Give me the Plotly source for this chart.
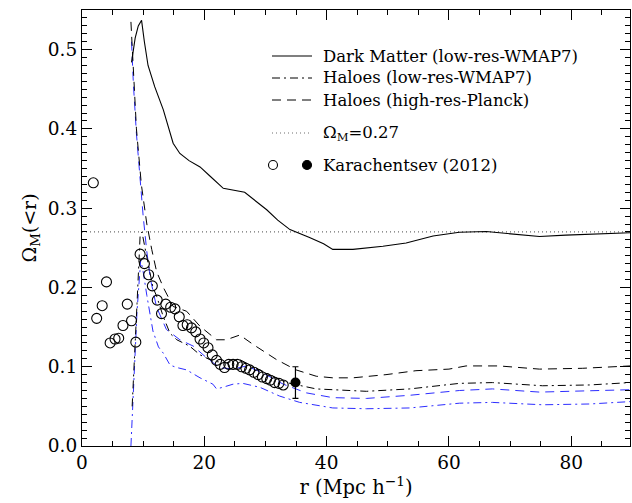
import plotly.graph_objects as go

# ---------------- data ----------------
dm_r = [8.1, 8.7, 9.2, 9.74, 10.2, 10.8, 11.9, 13.3, 14.9, 16.0, 17.5, 19.3, 21.0, 23.1, 26.6, 28.5,
        30.2, 32.0, 34.0, 37.2, 39.5, 41.0, 44.3, 49.2, 53.0, 57.4, 61.7, 66.1, 71.0, 74.8, 79.1, 84.6, 89.6]
dm_om = [0.484, 0.515, 0.530, 0.537, 0.510, 0.480, 0.453, 0.424, 0.382, 0.369, 0.360, 0.352, 0.340, 0.325,
         0.320, 0.308, 0.298, 0.285, 0.273, 0.263, 0.255, 0.248, 0.248, 0.252, 0.256, 0.265, 0.2697, 0.2705,
         0.2667, 0.2642, 0.266, 0.2677, 0.269]

hlw_r = [8.2, 8.6, 9.0, 9.5, 9.8, 10.3, 11.6, 12.2, 13.3, 14.4, 15.5, 17.6, 19.3, 21.4, 23.6, 25.8, 28.0,
         31.2, 34.0, 38.3, 41.6, 46.5, 53.6, 61.7, 67.1, 75.3, 83.0, 89.6]
hlw_om = [0.05, 0.11, 0.18, 0.265, 0.27, 0.25, 0.20, 0.189, 0.163, 0.142, 0.134, 0.126, 0.115, 0.107, 0.105,
          0.109, 0.100, 0.088, 0.079, 0.072, 0.071, 0.069, 0.072, 0.079, 0.080, 0.076, 0.077, 0.080]

hhp_r = [8.0, 8.9, 9.7, 10.6, 11.4, 12.2, 13.3, 14.9, 17.1, 19.3, 22.0, 23.6, 25.8, 28.0, 31.8, 35.0, 38.3,
         41.0, 44.3, 49.7, 54.6, 60.0, 62.8, 68.2, 74.8, 81.8, 89.6]
hhp_om = [0.535, 0.40, 0.33, 0.28, 0.248, 0.22, 0.200, 0.176, 0.170, 0.151, 0.134, 0.134, 0.140, 0.128, 0.109,
          0.096, 0.088, 0.086, 0.086, 0.090, 0.095, 0.097, 0.101, 0.101, 0.097, 0.098, 0.101]

blue_dash_r = [8.1, 8.4, 8.9, 9.5, 10.0, 10.6, 11.2, 12.2, 13.8, 16.0, 18.2, 20.4, 22.5, 24.7, 26.9, 29.6,
               32.9, 36.7, 41.0, 46.5, 53.6, 61.7, 67.1, 74.8, 81.8, 89.6]
blue_dash_om = [0.51, 0.457, 0.394, 0.331, 0.29, 0.245, 0.21, 0.175, 0.147, 0.134, 0.126, 0.111, 0.099, 0.097,
                0.101, 0.092, 0.078, 0.067, 0.061, 0.060, 0.064, 0.070, 0.072, 0.068, 0.069, 0.071]

blue_dd_r = [8.0, 8.5, 9.0, 9.6, 10.0, 10.6, 11.6, 12.5, 13.3, 14.4, 15.5, 17.1, 19.3, 21.4, 22.0, 23.0, 24.7,
             26.3, 29.1, 32.3, 35.6, 41.0, 46.5, 53.6, 61.7, 67.1, 75.3, 83.0, 89.6]
blue_dd_om = [0.0, 0.09, 0.17, 0.235, 0.22, 0.19, 0.145, 0.125, 0.117, 0.102, 0.099, 0.096, 0.086, 0.078, 0.072,
              0.074, 0.078, 0.079, 0.074, 0.063, 0.055, 0.048, 0.047, 0.048, 0.054, 0.055, 0.052, 0.053, 0.056]

omega_ref = 0.27
x_range = [0, 89.6]

kar_r = [1.85, 2.4, 3.3, 4.0, 4.6, 5.4, 6.0, 6.7, 7.4, 8.1, 8.8, 9.5, 10.2, 10.9, 11.5, 12.3, 13.0, 13.7, 14.5,
         15.2, 15.9, 16.5, 17.2, 17.9, 18.6, 19.3, 19.9, 20.6, 21.3, 22.0, 22.6, 23.3, 24.0, 24.7, 25.4, 26.1,
         26.8, 27.4, 28.1, 28.8, 29.5, 30.2, 30.8, 31.5, 32.2, 32.9]
kar_om = [0.332, 0.161, 0.177, 0.207, 0.130, 0.135, 0.136, 0.152, 0.179, 0.158, 0.131, 0.242, 0.230, 0.216,
          0.202, 0.184, 0.167, 0.179, 0.175, 0.173, 0.163, 0.152, 0.153, 0.149, 0.144, 0.135, 0.130, 0.124,
          0.115, 0.108, 0.103, 0.099, 0.103, 0.103, 0.103, 0.100, 0.098, 0.096, 0.093, 0.090, 0.087, 0.085,
          0.083, 0.080, 0.079, 0.077]

kar_big_r = [34.9]
kar_big_om = [0.080]
kar_big_err = [0.020]

legend_labels = ["Dark Matter (low-res-WMAP7)", "Haloes (low-res-WMAP7)", "Haloes (high-res-Planck)",
                 "Ω<sub>M</sub>=0.27", "Karachentsev (2012)"]

# ---------------- styles ----------------
BLUE = "rgb(45,45,255)"
DASH = "9px,6px"
DASHDOT = "8px,4px,2px,4px"
DOT = "1px,3px"
FONT = "DejaVu Serif"

fig = go.Figure()

fig.add_trace(go.Scatter(x=x_range, y=[omega_ref, omega_ref], mode="lines",
                         line=dict(color="rgb(110,110,110)", width=1.2, dash=DOT), showlegend=False))
fig.add_trace(go.Scatter(x=blue_dd_r, y=blue_dd_om, mode="lines",
                         line=dict(color=BLUE, width=1, dash=DASHDOT), showlegend=False))
fig.add_trace(go.Scatter(x=blue_dash_r, y=blue_dash_om, mode="lines",
                         line=dict(color=BLUE, width=1, dash=DASH), showlegend=False))
fig.add_trace(go.Scatter(x=hlw_r, y=hlw_om, mode="lines",
                         line=dict(color="black", width=1, dash=DASHDOT), showlegend=False))
fig.add_trace(go.Scatter(x=hhp_r, y=hhp_om, mode="lines",
                         line=dict(color="black", width=1, dash=DASH), showlegend=False))
fig.add_trace(go.Scatter(x=dm_r, y=dm_om, mode="lines",
                         line=dict(color="black", width=1.1), showlegend=False))
fig.add_trace(go.Scatter(x=kar_r, y=kar_om, mode="markers",
                         marker=dict(symbol="circle-open", size=10, color="black", line=dict(width=1.1)),
                         showlegend=False))
fig.add_trace(go.Scatter(x=kar_big_r, y=kar_big_om, mode="markers",
                         marker=dict(symbol="circle", size=10, color="black"),
                         error_y=dict(type="data", array=kar_big_err, color="black", thickness=1.2, width=3),
                         showlegend=False))

# ---------------- hand-drawn legend (paper coords) ----------------
PL, PR, PT, PB = 82, 630, 10, 446
W, H = PR - PL, PB - PT


def px(x):
    return (x - PL) / W


def py(y):
    return (PB - y) / H


legend_rows_y = [56, 78, 100, 133, 165]
legend_styles = [dict(color="black", width=1.1, dash="solid"),
                 dict(color="black", width=1, dash=DASHDOT),
                 dict(color="black", width=1, dash=DASH),
                 dict(color="rgb(110,110,110)", width=1.2, dash=DOT)]
shapes = []
annotations = []
for row_y, st in zip(legend_rows_y[:4], legend_styles):
    shapes.append(dict(type="line", xref="paper", yref="paper", x0=px(272), x1=px(312),
                       y0=py(row_y), y1=py(row_y), line=st))
for cx, filled in [(273, False), (307, True)]:
    shapes.append(dict(type="circle", xref="paper", yref="paper", xsizemode="pixel", ysizemode="pixel",
                       xanchor=px(cx), yanchor=py(165), x0=-4.5, x1=4.5, y0=-4.5, y1=4.5,
                       line=dict(color="black", width=1.1),
                       fillcolor="black" if filled else "rgba(0,0,0,0)"))
for row_y, lab in zip(legend_rows_y, legend_labels):
    annotations.append(dict(xref="paper", yref="paper", x=px(321), y=py(row_y), text=lab,
                            showarrow=False, xanchor="left", yanchor="middle",
                            font=dict(family=FONT, size=16.5, color="black")))

axis_common = dict(showline=True, linecolor="black", linewidth=1.2, mirror="ticks",
                   ticks="inside", tickcolor="black", tickwidth=1, showgrid=False, zeroline=False,
                   tickfont=dict(family=FONT, size=18.5, color="black"))

fig.update_layout(
    width=632, height=503,
    margin=dict(l=PL, r=632 - PR, t=PT, b=503 - PB),
    paper_bgcolor="white", plot_bgcolor="white",
    shapes=shapes, annotations=annotations,
    xaxis=dict(range=x_range, dtick=20, ticklen=10,
               minor=dict(dtick=5, ticks="inside", ticklen=5, tickcolor="black", showgrid=False),
               title=dict(text="r (Mpc h<sup>−1</sup>)", font=dict(family=FONT, size=19.5, color="black"),
                          standoff=6),
               **axis_common),
    yaxis=dict(range=[0, 0.55], dtick=0.1, tickformat=".1f", ticklen=10,
               minor=dict(dtick=0.01, ticks="inside", ticklen=5, tickcolor="black", showgrid=False),
               title=dict(text="Ω<sub>M</sub>(&lt;r)", font=dict(family=FONT, size=19, color="black"),
                          standoff=6),
               **axis_common),
)

fig.write_html("out.html")
